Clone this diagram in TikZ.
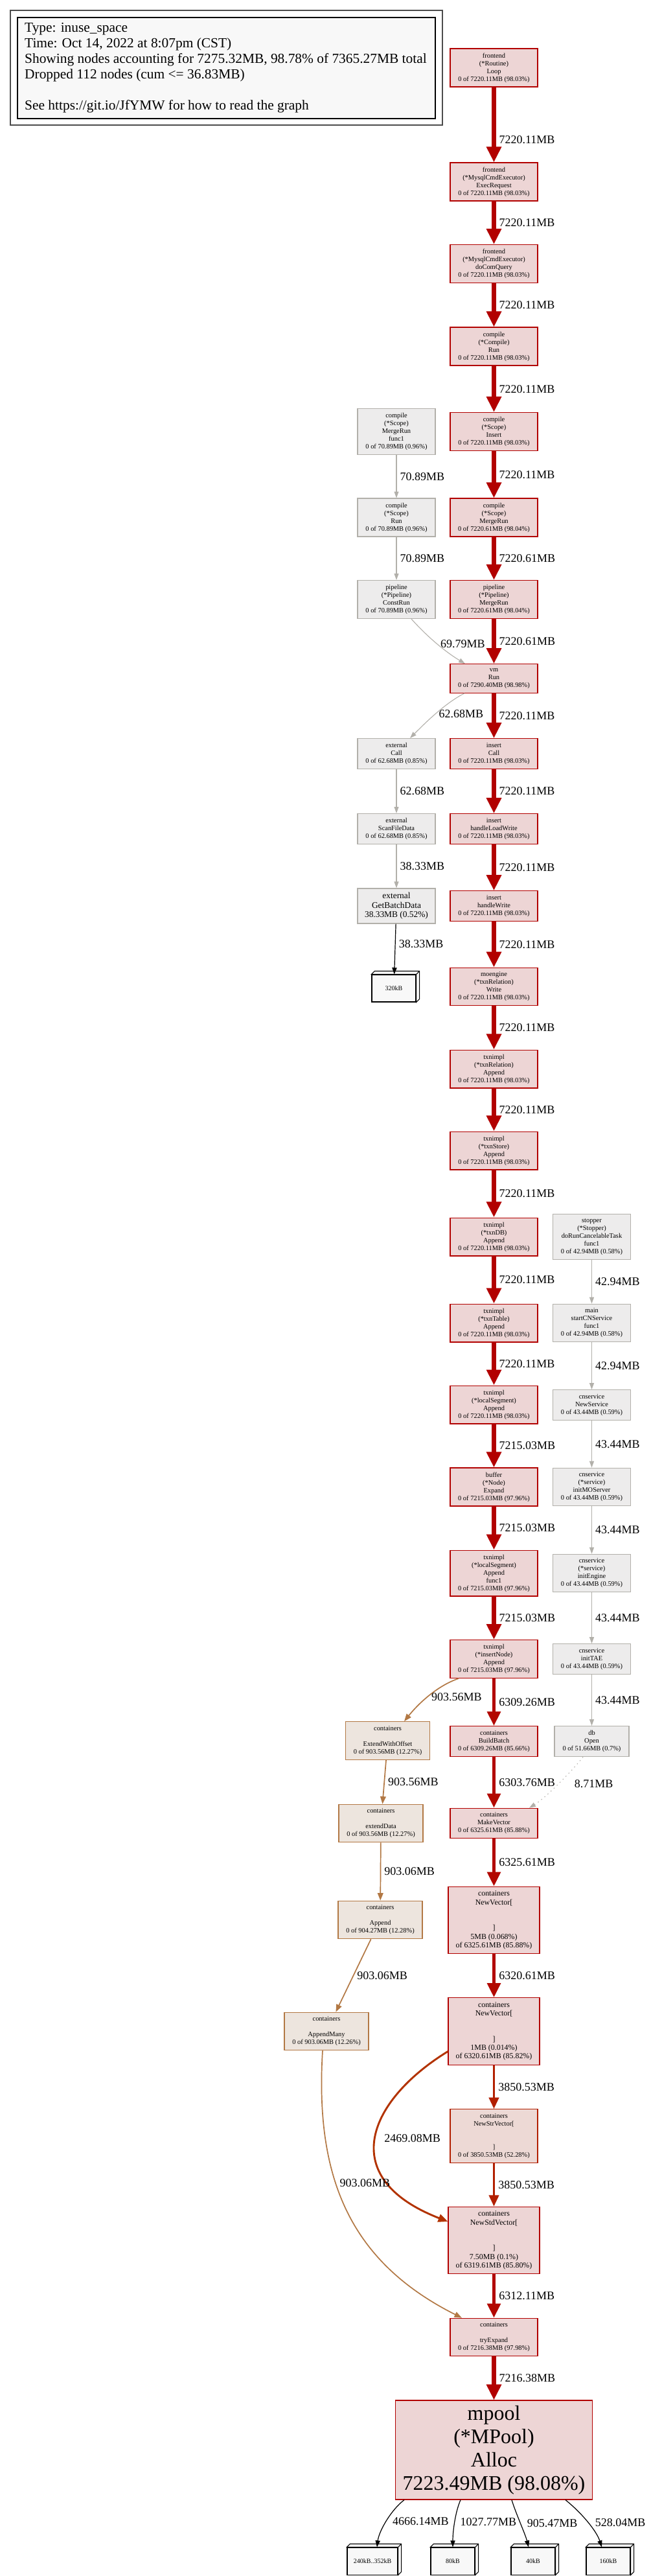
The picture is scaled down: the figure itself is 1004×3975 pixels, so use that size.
\documentclass[tikz,border=0pt]{standalone}
\usepackage{fontspec}
\setmainfont{Liberation Serif}
\usetikzlibrary{arrows.meta,calc}
\definecolor{hotline}{HTML}{B20100}
\definecolor{hotfill}{HTML}{EDD5D5}
\definecolor{warmline}{HTML}{B20800}
\definecolor{strline}{HTML}{B21F00}
\definecolor{strfill}{HTML}{EDD9D5}
\definecolor{bendline}{HTML}{B23200}
\definecolor{coolline}{HTML}{B2B0AA}
\definecolor{coolfill}{HTML}{EDECEC}
\definecolor{ochre}{HTML}{B27844}
\definecolor{ochrefill}{HTML}{EDE5DE}
\definecolor{legendfill}{HTML}{F8F8F8}
\newcommand{\nodefont}{\fontsize{10.4}{12}\selectfont}
\newcommand{\widefont}{\fontsize{11.9}{13.25}\selectfont}
\newcommand{\batchfont}{\fontsize{13.4}{14.5}\selectfont}
\newcommand{\poolfont}{\fontsize{32}{36}\selectfont}
\newcommand{\lblfont}{\fontsize{18}{20}\selectfont}
\newcommand{\leaffont}{\fontsize{10}{12}\selectfont}
\newcommand{\legendfont}{\fontsize{21.4}{24}\selectfont}

\begin{document}
\begin{tikzpicture}[x=1pt,y=-1pt,>={Triangle[length=7pt 2.7,width=3.8pt 2.9]},
  fn/.style={draw,rectangle,align=center,inner xsep=3pt,inner ysep=6.7pt,line width=1.2pt,font=\nodefont,minimum width=135pt},
  hot/.style={fn,draw=hotline,fill=hotfill},
  cool/.style={fn,draw=coolline,fill=coolfill,minimum width=120pt},
  ochrebox/.style={fn,draw=ochre,fill=ochrefill,minimum width=130pt},
  wide/.style={hot,font=\widefont,minimum width=141pt},
  leaf/.style={draw=black,fill=legendfill,line width=1.1pt,minimum width=68pt,minimum height=42pt,inner sep=0pt,font=\leaffont},
  lbl/.style={font=\lblfont,anchor=west,xshift=5pt,inner sep=0pt,text=black},
  hotedge/.style={->,draw=hotline,line width=6.3pt},
  warmedge/.style={->,draw=warmline,line width=5.6pt},
  cooledge/.style={->,draw=coolline,line width=1.1pt},
  ochreedge/.style={->,draw=ochre,line width=1.7pt},
  leafedge/.style={->,draw=black,line width=1.2pt}]
  \useasboundingbox (0,0) rectangle (1004,3975);

  \draw[black!70,line width=1.3pt] (16,16) rectangle (683,193);
  \draw[fill=legendfill,line width=1.1pt] (27,27) rectangle (672,183);
  \node[anchor=north west,align=left,inner sep=0pt,font=\legendfont] (legend) at (38,35)
    {Type: inuse\_space\\Time: Oct 14, 2022 at 8:07pm (CST)\\Showing nodes accounting for 7275.32MB, 98.78\% of 7365.27MB total\\Dropped 112 nodes (cum <= 36.83MB)\\{}\\See https://git.io/JfYMW for how to read the graph};

  \node[hot] (loop) at (762.5,104.5) {frontend\\(*Routine)\\Loop\\0 of 7220.11MB (98.03\%)};
  \node[hot] (execreq) at (762.5,280.5) {frontend\\(*MysqlCmdExecutor)\\ExecRequest\\0 of 7220.11MB (98.03\%)};
  \node[hot] (docomq) at (762.5,407) {frontend\\(*MysqlCmdExecutor)\\doComQuery\\0 of 7220.11MB (98.03\%)};
  \node[hot] (comprun) at (762.5,534.5) {compile\\(*Compile)\\Run\\0 of 7220.11MB (98.03\%)};
  \node[hot] (scopeins) at (762.5,666) {compile\\(*Scope)\\Insert\\0 of 7220.11MB (98.03\%)};
  \node[hot] (scopemerge) at (762.5,798.5) {compile\\(*Scope)\\MergeRun\\0 of 7220.61MB (98.04\%)};
  \node[hot] (pipemerge) at (762.5,925) {pipeline\\(*Pipeline)\\MergeRun\\0 of 7220.61MB (98.04\%)};
  \node[hot] (vmrun) at (762.5,1047) {vm\\Run\\0 of 7290.40MB (98.98\%)};
  \node[hot] (inscall) at (762.5,1163) {insert\\Call\\0 of 7220.11MB (98.03\%)};
  \node[hot] (loadwrite) at (762.5,1279) {insert\\handleLoadWrite\\0 of 7220.11MB (98.03\%)};
  \node[hot] (handlewrite) at (762.5,1398) {insert\\handleWrite\\0 of 7220.11MB (98.03\%)};
  \node[hot] (relwrite) at (762.5,1522.5) {moengine\\(*txnRelation)\\Write\\0 of 7220.11MB (98.03\%)};
  \node[hot] (relappend) at (762.5,1649.5) {txnimpl\\(*txnRelation)\\Append\\0 of 7220.11MB (98.03\%)};
  \node[hot] (storeappend) at (762.5,1775.5) {txnimpl\\(*txnStore)\\Append\\0 of 7220.11MB (98.03\%)};
  \node[hot] (dbappend) at (762.5,1908.5) {txnimpl\\(*txnDB)\\Append\\0 of 7220.11MB (98.03\%)};
  \node[hot] (tableappend) at (762.5,2041.5) {txnimpl\\(*txnTable)\\Append\\0 of 7220.11MB (98.03\%)};
  \node[hot] (segappend) at (762.5,2167.5) {txnimpl\\(*localSegment)\\Append\\0 of 7220.11MB (98.03\%)};
  \node[hot] (nodeexpand) at (762.5,2294.5) {buffer\\(*Node)\\Expand\\0 of 7215.03MB (97.96\%)};
  \node[hot] (segfunc) at (762.5,2427.5) {txnimpl\\(*localSegment)\\Append\\func1\\0 of 7215.03MB (97.96\%)};
  \node[hot] (insnode) at (762.5,2560) {txnimpl\\(*insertNode)\\Append\\0 of 7215.03MB (97.96\%)};
  \node[hot] (buildbatch) at (762.5,2687) {containers\\BuildBatch\\0 of 6309.26MB (85.66\%)};
  \node[hot] (makevector) at (762.5,2813.5) {containers\\MakeVector\\0 of 6325.61MB (85.88\%)};
  \node[wide] (newvec1) at (762.5,2963) {containers\\NewVector[\\{}\\{}\\]\\5MB (0.068\%)\\of 6325.61MB (85.88\%)};
  \node[wide] (newvec2) at (762.5,3134.5) {containers\\NewVector[\\{}\\{}\\]\\1MB (0.014\%)\\of 6320.61MB (85.82\%)};
  \node[fn,draw=strline,fill=strfill] (newstr) at (762.5,3296) {containers\\NewStrVector[\\{}\\{}\\]\\0 of 3850.53MB (52.28\%)};
  \node[wide] (newstd) at (762.5,3457) {containers\\NewStdVector[\\{}\\{}\\]\\7.50MB (0.1\%)\\of 6319.61MB (85.80\%)};
  \node[hot] (tryexpand) at (762.5,3606.5) {containers\\{}\\tryExpand\\0 of 7216.38MB (97.98\%)};
  \node[hot,font=\poolfont,minimum width=304pt,inner ysep=8pt] (mpool) at (762.5,3780.5) {mpool\\(*MPool)\\Alloc\\7223.49MB (98.08\%)};

  \node[cool] (mrfunc) at (612,666) {compile\\(*Scope)\\MergeRun\\func1\\0 of 70.89MB (0.96\%)};
  \node[cool] (scoperun) at (612,798.5) {compile\\(*Scope)\\Run\\0 of 70.89MB (0.96\%)};
  \node[cool] (construn) at (612,925) {pipeline\\(*Pipeline)\\ConstRun\\0 of 70.89MB (0.96\%)};
  \node[cool] (extcall) at (612,1163) {external\\Call\\0 of 62.68MB (0.85\%)};
  \node[cool] (scanfile) at (612,1279) {external\\ScanFileData\\0 of 62.68MB (0.85\%)};
  \node[cool,font=\batchfont,inner ysep=6.5pt] (getbatch) at (612,1398) {external\\GetBatchData\\38.33MB (0.52\%)};
  \node[leaf] (kb320) at (608,1525) {320kB};

  \node[cool] (stopper) at (913.5,1908.5) {stopper\\(*Stopper)\\doRunCancelableTask\\func1\\0 of 42.94MB (0.58\%)};
  \node[cool] (startcn) at (913.5,2041.5) {main\\startCNService\\func1\\0 of 42.94MB (0.58\%)};
  \node[cool] (newsvc) at (913.5,2168) {cnservice\\NewService\\0 of 43.44MB (0.59\%)};
  \node[cool] (initmo) at (913.5,2294.5) {cnservice\\(*service)\\initMOServer\\0 of 43.44MB (0.59\%)};
  \node[cool] (initeng) at (913.5,2427.5) {cnservice\\(*service)\\initEngine\\0 of 43.44MB (0.59\%)};
  \node[cool] (inittae) at (913.5,2560) {cnservice\\initTAE\\0 of 43.44MB (0.59\%)};
  \node[cool,minimum width=115pt] (dbopen) at (913.5,2687) {db\\Open\\0 of 51.66MB (0.7\%)};

  \node[ochrebox] (extoff) at (598.5,2686) {containers\\{}\\ExtendWithOffset\\0 of 903.56MB (12.27\%)};
  \node[ochrebox] (extdata) at (588,2813.5) {containers\\{}\\extendData\\0 of 903.56MB (12.27\%)};
  \node[ochrebox] (orappend) at (587,2962.5) {containers\\{}\\Append\\0 of 904.27MB (12.28\%)};
  \node[ochrebox] (appmany) at (504,3134.5) {containers\\{}\\AppendMany\\0 of 903.06MB (12.26\%)};

  \node[leaf,minimum width=78pt] (kbmix) at (575,3952) {240kB..352kB};
  \node[leaf] (kb80) at (699,3952) {80kB};
  \node[leaf] (kb40) at (823,3952) {40kB};
  \node[leaf] (kb160) at (939,3952) {160kB};
  \filldraw[fill=legendfill,line width=1.1pt] (kb320.north west) -- ++(5,-5) -- ([shift={(5,-5)}]kb320.north east) -- ([shift={(5,-5)}]kb320.south east) -- (kb320.south east) -- (kb320.north east) -- cycle (kb320.north east) -- ++(5,-5);
  \filldraw[fill=legendfill,line width=1.1pt] (kbmix.north west) -- ++(5,-5) -- ([shift={(5,-5)}]kbmix.north east) -- ([shift={(5,-5)}]kbmix.south east) -- (kbmix.south east) -- (kbmix.north east) -- cycle (kbmix.north east) -- ++(5,-5);
  \filldraw[fill=legendfill,line width=1.1pt] (kb80.north west) -- ++(5,-5) -- ([shift={(5,-5)}]kb80.north east) -- ([shift={(5,-5)}]kb80.south east) -- (kb80.south east) -- (kb80.north east) -- cycle (kb80.north east) -- ++(5,-5);
  \filldraw[fill=legendfill,line width=1.1pt] (kb40.north west) -- ++(5,-5) -- ([shift={(5,-5)}]kb40.north east) -- ([shift={(5,-5)}]kb40.south east) -- (kb40.south east) -- (kb40.north east) -- cycle (kb40.north east) -- ++(5,-5);
  \filldraw[fill=legendfill,line width=1.1pt] (kb160.north west) -- ++(5,-5) -- ([shift={(5,-5)}]kb160.north east) -- ([shift={(5,-5)}]kb160.south east) -- (kb160.south east) -- (kb160.north east) -- cycle (kb160.north east) -- ++(5,-5);

  \draw[hotedge] (loop) -- (execreq) node[lbl,pos=.7]{7220.11MB};
  \draw[hotedge] (execreq) -- (docomq) node[lbl,midway]{7220.11MB};
  \draw[hotedge] (docomq) -- (comprun) node[lbl,midway]{7220.11MB};
  \draw[hotedge] (comprun) -- (scopeins) node[lbl,midway]{7220.11MB};
  \draw[hotedge] (scopeins) -- (scopemerge) node[lbl,midway]{7220.11MB};
  \draw[hotedge] (scopemerge) -- (pipemerge) node[lbl,midway]{7220.61MB};
  \draw[hotedge] (pipemerge) -- (vmrun) node[lbl,midway]{7220.61MB};
  \draw[hotedge] (vmrun) -- (inscall) node[lbl,midway]{7220.11MB};
  \draw[hotedge] (inscall) -- (loadwrite) node[lbl,midway]{7220.11MB};
  \draw[hotedge] (loadwrite) -- (handlewrite) node[lbl,midway]{7220.11MB};
  \draw[hotedge] (handlewrite) -- (relwrite) node[lbl,midway]{7220.11MB};
  \draw[hotedge] (relwrite) -- (relappend) node[lbl,midway]{7220.11MB};
  \draw[hotedge] (relappend) -- (storeappend) node[lbl,midway]{7220.11MB};
  \draw[hotedge] (storeappend) -- (dbappend) node[lbl,midway]{7220.11MB};
  \draw[hotedge] (dbappend) -- (tableappend) node[lbl,midway]{7220.11MB};
  \draw[hotedge] (tableappend) -- (segappend) node[lbl,midway]{7220.11MB};
  \draw[hotedge] (segappend) -- (nodeexpand) node[lbl,midway]{7215.03MB};
  \draw[hotedge] (nodeexpand) -- (segfunc) node[lbl,midway]{7215.03MB};
  \draw[hotedge] (segfunc) -- (insnode) node[lbl,midway]{7215.03MB};
  \draw[warmedge] (insnode) -- (buildbatch) node[lbl,midway]{6309.26MB};
  \draw[warmedge] (buildbatch) -- (makevector) node[lbl,midway]{6303.76MB};
  \draw[warmedge] (makevector) -- (newvec1) node[lbl,midway]{6325.61MB};
  \draw[warmedge] (newvec1) -- (newvec2) node[lbl,midway]{6320.61MB};
  \draw[->,draw=strline,line width=3.9pt] (newvec2) -- (newstr) node[lbl,midway]{3850.53MB};
  \draw[->,draw=strline,line width=3.9pt] (newstr) -- (newstd) node[lbl,midway]{3850.53MB};
  \draw[->,draw=bendline,line width=2.9pt] ([yshift=-31pt]newvec2.west) .. controls +(-122,75) and +(-175,-68) .. ([yshift=29pt]newstd.west) node[lbl,pos=.5,xshift=7pt]{2469.08MB};
  \draw[warmedge] (newstd) -- (tryexpand) node[lbl,midway]{6312.11MB};
  \draw[hotedge] (tryexpand) -- (mpool) node[lbl,midway]{7216.38MB};

  \draw[cooledge] (mrfunc) -- (scoperun) node[lbl,midway]{70.89MB};
  \draw[cooledge] (scoperun) -- (construn) node[lbl,midway]{70.89MB};
  \draw[cooledge] ([xshift=23pt]construn.south) .. controls +(25,28) and +(-30,-18) .. ([xshift=-44.5pt]vmrun.north) node[lbl,pos=.5]{69.79MB};
  \draw[cooledge] ([xshift=-45.5pt]vmrun.south) .. controls +(-30,15) and +(22,-22) .. ([xshift=21pt]extcall.north) node[lbl,pos=.5]{62.68MB};
  \draw[cooledge] (extcall) -- (scanfile) node[lbl,midway]{62.68MB};
  \draw[cooledge] (scanfile) -- (getbatch) node[lbl,midway]{38.33MB};
  \draw[leafedge] (getbatch) -- (kb320) node[lbl,pos=.4]{38.33MB};

  \draw[cooledge] (stopper) -- (startcn) node[lbl,midway]{42.94MB};
  \draw[cooledge] (startcn) -- (newsvc) node[lbl,midway]{42.94MB};
  \draw[cooledge] (newsvc) -- (initmo) node[lbl,midway]{43.44MB};
  \draw[cooledge] (initmo) -- (initeng) node[lbl,midway]{43.44MB};
  \draw[cooledge] (initeng) -- (inittae) node[lbl,midway]{43.44MB};
  \draw[cooledge] (inittae) -- (dbopen) node[lbl,midway]{43.44MB};
  \draw[cooledge,dash pattern=on 1.5pt off 5pt] ([xshift=-13.5pt]dbopen.south) .. controls +(-15,20) and +(25,-15) .. ([xshift=54.5pt]makevector.north) node[lbl,pos=.5,xshift=19pt]{8.71MB};

  \draw[ochreedge] ([xshift=-54.5pt]insnode.south) .. controls +(-35,12) and +(20,-25) .. ([xshift=25.5pt]extoff.north) node[lbl,pos=.5]{903.56MB};
  \draw[ochreedge] (extoff) -- (extdata) node[lbl,midway]{903.56MB};
  \draw[ochreedge] (extdata) -- (orappend) node[lbl,midway]{903.06MB};
  \draw[ochreedge] (orappend) -- (appmany) node[lbl,midway]{903.06MB};
  \draw[ochreedge] ([xshift=-6pt]appmany.south) .. controls +(-12,196) and +(-173,-87) .. ([xshift=-49.5pt]tryexpand.north) node[lbl,pos=.4]{903.06MB};

  \draw[leafedge] ([xshift=-138.5pt]mpool.south) .. controls +(-20,15) and +(3,-25) .. ([xshift=7pt]kbmix.north) node[lbl,pos=.5,xshift=4pt]{4666.14MB};
  \draw[leafedge] ([xshift=-51.5pt]mpool.south) .. controls +(-8,18) and +(0,-25) .. (kb80.north) node[lbl,pos=.5,xshift=3pt]{1027.77MB};
  \draw[leafedge] ([xshift=27.5pt]mpool.south) .. controls +(6,20) and +(-5,-20) .. ([xshift=-7pt]kb40.north) node[lbl,pos=.5,xshift=5pt]{905.47MB};
  \draw[leafedge] ([xshift=110.5pt]mpool.south) .. controls +(25,20) and +(-8,-25) .. ([xshift=-10pt]kb160.north) node[lbl,pos=.5,xshift=6pt]{528.04MB};
\end{tikzpicture}
\end{document}
